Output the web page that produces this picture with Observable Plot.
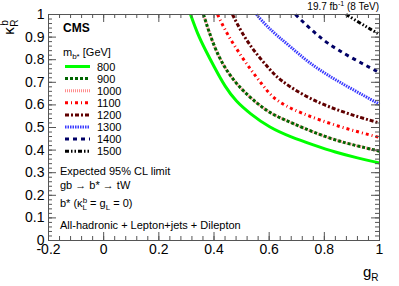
<!DOCTYPE html>
<html><head><meta charset="utf-8">
<script src="https://cdn.jsdelivr.net/npm/d3@7"></script>
<script src="https://cdn.jsdelivr.net/npm/@observablehq/plot@0.6"></script>
<style>body{margin:0;background:#fff}</style>
</head><body><div id="chart"></div>
<script>
// ---- data ----
const masses = [800, 900, 1000, 1100, 1200, 1300, 1400, 1500];
const gR800  = [0.315, 0.34, 0.37, 0.40, 0.44, 0.48, 0.53, 0.60, 0.68, 0.76, 0.84, 0.92, 1.0];
const k800   = [1.00, 0.915, 0.84, 0.77, 0.68, 0.615, 0.562, 0.50, 0.457, 0.423, 0.39, 0.365, 0.343];
const gR900  = [0.362, 0.38, 0.405, 0.44, 0.49, 0.543, 0.60, 0.66, 0.72, 0.80, 0.88, 0.95, 1.0];
const k900   = [1.00, 0.93, 0.845, 0.76, 0.68, 0.62, 0.565, 0.532, 0.50, 0.46, 0.43, 0.41, 0.395];
const gR1000 = [0.362, 0.38, 0.405, 0.44, 0.49, 0.543, 0.60, 0.66, 0.72, 0.80, 0.88, 0.95, 1.0];
const k1000  = [1.00, 0.93, 0.845, 0.76, 0.68, 0.62, 0.565, 0.532, 0.50, 0.46, 0.43, 0.41, 0.395];
const gR1100 = [0.413, 0.44, 0.48, 0.53, 0.575, 0.61, 0.66, 0.72, 0.786, 0.86, 0.93, 1.0];
const k1100  = [1.00, 0.93, 0.85, 0.76, 0.69, 0.635, 0.595, 0.562, 0.532, 0.502, 0.478, 0.456];
const gR1200 = [0.467, 0.50, 0.543, 0.605, 0.641, 0.714, 0.786, 0.86, 0.931, 1.0];
const k1200  = [1.00, 0.92, 0.841, 0.752, 0.708, 0.65, 0.606, 0.572, 0.544, 0.52];
const gR1300 = [0.554, 0.59, 0.63, 0.68, 0.74, 0.82, 0.90, 1.0];
const k1300  = [1.00, 0.95, 0.905, 0.855, 0.79, 0.725, 0.67, 0.603];
const gR1400 = [0.695, 0.75, 0.81, 0.895, 1.0];
const k1400  = [1.00, 0.935, 0.872, 0.81, 0.743];
const gR1500 = [0.879, 0.93, 0.96, 1.0];
const k1500  = [1.00, 0.962, 0.94, 0.912];

const xTicks = [-0.2, 0, 0.2, 0.4, 0.6, 0.8, 1];
const yTicks = [0, 0.1, 0.2, 0.3, 0.4, 0.5, 0.6, 0.7, 0.8, 0.9, 1];
const xMinor = d3.range(0, 31).map(i => -0.2 + i * 0.04);
const yMinor = d3.range(0, 51).map(i => i * 0.02);

// ---- styles ----
const styles = {
  800:  {stroke: "#00ff00", dash: null},
  900:  {stroke: "#006600", dash: "3,2"},
  1000: {stroke: "#ff8c8c", dash: "1,1"},
  1100: {stroke: "#ff0000", dash: "3,3,1,3"},
  1200: {stroke: "#600000", dash: "4,2,2,2"},
  1300: {stroke: "#3a3aff", dash: "1.5,1"},
  1400: {stroke: "#000066", dash: "4,4"},
  1500: {stroke: "#000000", dash: "4,2,1.5,2,1.5,2"}
};
const series = {800:[gR800,k800],900:[gR900,k900],1000:[gR1000,k1000],1100:[gR1100,k1100],
  1200:[gR1200,k1200],1300:[gR1300,k1300],1400:[gR1400,k1400],1500:[gR1500,k1500]};
const rows = [];
for (const m of masses) { const [g,k] = series[m]; g.forEach((v,i)=>rows.push({mass:m, g:v, k:k[i]})); }

const W = 399, H = 286, mL = 48, mR = 20, mT = 14, mB = 46;
const iW = W - mL - mR, iH = H - mT - mB;
const drawOrder = [800, 1000, 900, 1100, 1200, 1300, 1400, 1500];

const lineMarks = drawOrder.map(m => Plot.line(rows.filter(r => r.mass === m), {
  x: "g", y: "k", stroke: styles[m].stroke, strokeWidth: 3,
  strokeDasharray: styles[m].dash, strokeLinecap: "butt", curve: "basis"
}));

const axisColor = "#555";
const plot = Plot.plot({
  width: W, height: H,
  marginLeft: mL, marginRight: mR, marginTop: mT, marginBottom: mB,
  x: {domain: [-0.2, 1]},
  y: {domain: [0, 1]},
  style: {fontFamily: "'Liberation Sans', Arial, sans-serif", fontSize: "14px", background: "white", color: "black"},
  marks: [
    ...lineMarks,
    Plot.frame({stroke: axisColor}),
    Plot.tickX(xTicks, {x: d => d, stroke: axisColor, insetTop: iH - 8}),
    Plot.tickX(xTicks, {x: d => d, stroke: axisColor, insetBottom: iH - 8}),
    Plot.tickX(xMinor, {x: d => d, stroke: axisColor, insetTop: iH - 4}),
    Plot.tickX(xMinor, {x: d => d, stroke: axisColor, insetBottom: iH - 4}),
    Plot.tickY(yTicks, {y: d => d, stroke: axisColor, insetRight: iW - 8}),
    Plot.tickY(yTicks, {y: d => d, stroke: axisColor, insetLeft: iW - 8}),
    Plot.tickY(yMinor, {y: d => d, stroke: axisColor, insetRight: iW - 4}),
    Plot.tickY(yMinor, {y: d => d, stroke: axisColor, insetLeft: iW - 4}),
    Plot.axisX({ticks: xTicks, tickSize: 0, tickPadding: 4, tickFormat: d => String(d), fontSize: 14, label: null}),
    Plot.axisY({ticks: yTicks, tickSize: 0, tickPadding: 4, tickFormat: d => String(d), fontSize: 14, label: null})
  ]
});
document.getElementById("chart").appendChild(plot);

// ---- annotations & legend ----
const svg = d3.select(plot);
const F = "'Liberation Sans', Arial, sans-serif";
function txt(x, y, size, opts = {}) {
  return svg.append("text").attr("x", x).attr("y", y).attr("font-size", size)
    .attr("font-family", F).attr("fill", "black")
    .attr("text-anchor", opts.anchor || "start").attr("font-weight", opts.bold ? "bold" : null);
}
// top-right luminosity
const lum = txt(379, 10, 10, {anchor: "end"});
lum.append("tspan").text("19.7 fb");
lum.append("tspan").attr("font-size", 7).attr("dy", -4).text("-1");
lum.append("tspan").attr("dy", 4).text(" (8 TeV)");

// y label (rotated)
const yl = svg.append("g").attr("transform", "translate(14,31) rotate(-90)")
  .append("text").attr("font-family", F).attr("font-size", 15).attr("fill", "black");
yl.append("tspan").attr("x", 0).attr("y", 0).text("κ");
yl.append("tspan").attr("x", 8).attr("y", -6).attr("font-size", 10).text("b");
yl.append("tspan").attr("x", 8).attr("y", 4).attr("font-size", 10).text("R");

// x label
const xl = txt(363, 277, 15);
xl.append("tspan").text("g");
xl.append("tspan").attr("font-size", 10).attr("dy", 4).text("R");

// CMS
txt(63, 32, 12, {bold: true}).text("CMS");

// legend header
const lh = txt(63, 56, 11);
lh.append("tspan").text("m");
lh.append("tspan").attr("font-size", 8).attr("dy", 3).text("b*");
lh.append("tspan").attr("dy", -3).text(" [GeV]");

masses.forEach((m, i) => {
  const y = 66.5 + i * 12.1;
  svg.append("line").attr("x1", 65).attr("x2", 90).attr("y1", y).attr("y2", y)
    .attr("stroke", styles[m].stroke).attr("stroke-width", 3)
    .attr("stroke-dasharray", styles[m].dash);
  txt(97, y + 4, 11).text(String(m));
});

txt(60, 175, 11).text("Expected 95% CL limit");
txt(60, 189, 11).text("gb → b* → tW");
const bs = txt(60, 207, 11);
bs.append("tspan").text("b* (κ");
bs.append("tspan").attr("font-size", 8).attr("dy", -4).text("b");
bs.append("tspan").attr("font-size", 8).attr("dx", -4.5).attr("dy", 7).text("L");
bs.append("tspan").attr("dy", -3).text(" = g");
bs.append("tspan").attr("font-size", 8).attr("dy", 3).text("L");
bs.append("tspan").attr("dy", -3).text(" = 0)");
txt(60, 229, 11).text("All-hadronic + Lepton+jets + Dilepton");
</script>
</body></html>
